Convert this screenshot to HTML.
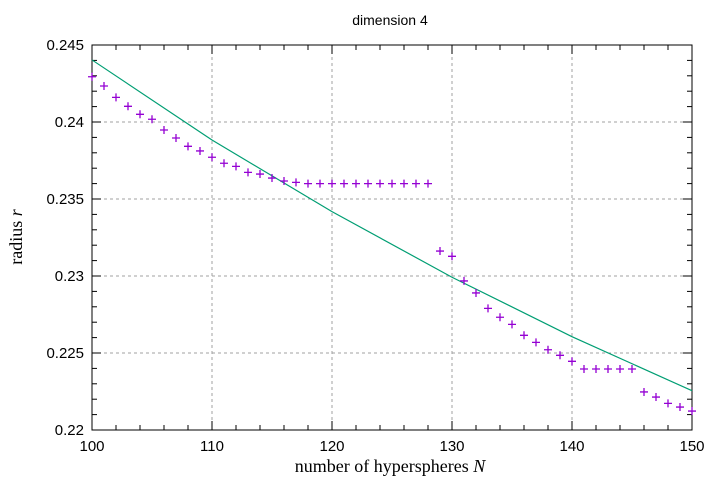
<!DOCTYPE html>
<html><head><meta charset="utf-8"><style>body{margin:0;background:#fff}svg{display:block}</style></head>
<body>
<svg id="chart" width="720" height="480" xmlns="http://www.w3.org/2000/svg"></svg>
<script>
const pointN=[];for(let n=100;n<=150;n++)pointN.push(n);
const pointR=[0.24294,0.24234,0.24160,0.24102,0.24050,0.24018,0.23948,0.23896,0.23842,0.23812,0.23771,0.23732,0.23712,0.23673,0.23662,0.23636,0.23617,0.23608,0.2360,0.2360,0.2360,0.2360,0.2360,0.2360,0.2360,0.2360,0.2360,0.2360,0.2360,0.23162,0.23128,0.22968,0.22890,0.22790,0.22732,0.22686,0.22615,0.22569,0.22521,0.22485,0.22446,0.22396,0.22396,0.22396,0.22396,0.22396,0.22247,0.22214,0.22173,0.22149,0.22123];
const fitN=[100,110,120,130,140,150];
const fitR=[0.24403,0.23883,0.23418,0.22992,0.22606,0.22255];
const xTicks=[100,110,120,130,140,150];
const yTicks=[0.22,0.225,0.23,0.235,0.24,0.245];
const yTickLabels=["0.22","0.225","0.23","0.235","0.24","0.245"];
const L=92,R=692,T=45,B=430;
const X=v=>L+(v-100)/50*(R-L);
const Y=v=>B-(v-0.22)/0.025*(B-T);
const svg=document.getElementById('chart');const NS="http://www.w3.org/2000/svg";
function mk(tag,attrs,name,parent){const e=document.createElementNS(NS,tag);for(const k in attrs)e.setAttribute(k,attrs[k]);


(parent||svg).appendChild(e);return e;}
// grid
xTicks.forEach(t=>{if(t>100&&t<150)mk('line',{x1:X(t),x2:X(t),y1:T,y2:B,stroke:'#a0a0a0','stroke-dasharray':'3,3'},'x-grid-line');});
yTicks.forEach(t=>{if(t>0.22&&t<0.245)mk('line',{x1:L,x2:R,y1:Y(t),y2:Y(t),stroke:'#a0a0a0','stroke-dasharray':'3,3'},'y-grid-line');});
// minor ticks
for(let v=100;v<=150;v+=2){const len=(v%10===0)?9:5;
mk('line',{x1:X(v),x2:X(v),y1:B,y2:B-len,stroke:'#000'},'x-tick');mk('line',{x1:X(v),x2:X(v),y1:T,y2:T+len,stroke:'#000'},'x-tick-top');}
for(let i=0;i<=25;i++){const v=0.22+i*0.001;const len=(i%5===0)?9:5;
mk('line',{x1:L,x2:L+len,y1:Y(v),y2:Y(v),stroke:'#000'},'y-tick');mk('line',{x1:R,x2:R-len,y1:Y(v),y2:Y(v),stroke:'#000'},'y-tick-right');}
mk('rect',{x:L,y:T,width:R-L,height:B-T,fill:'none',stroke:'#000','stroke-width':1},'plot-frame');
xTicks.forEach(t=>{const e=mk('text',{x:X(t),y:B+21,'text-anchor':'middle','font-family':'Liberation Sans, sans-serif','font-size':15},'x-tick-label');e.textContent=t;});
yTicks.forEach((t,i)=>{const e=mk('text',{x:L-8,y:Y(t)+5,'text-anchor':'end','font-family':'Liberation Sans, sans-serif','font-size':15},'y-tick-label');e.textContent=yTickLabels[i];});
// fit line
mk('polyline',{points:fitN.map((n,i)=>X(n)+','+Y(fitR[i])).join(' '),fill:'none',stroke:'#009e73','stroke-width':1.2},'fit-line');
// points
pointN.forEach((n,i)=>{const x=X(n),y=Y(pointR[i]);
mk('path',{d:`M${x-4},${y}H${x+4}M${x},${y-4}V${y+4}`,stroke:'#9400d3','stroke-width':1.3},'data-point');});
let t=mk('text',{x:390,y:25,'text-anchor':'middle','font-family':'Liberation Sans, sans-serif','font-size':14},'chart-title');t.textContent='dimension 4';
t=mk('text',{x:390,y:472,'text-anchor':'middle','font-family':'Liberation Serif, serif','font-size':18},'x-axis-title');
t.innerHTML='number of hyperspheres <tspan font-style="italic">N</tspan>';
t=mk('text',{x:22,y:237,'text-anchor':'middle','font-family':'Liberation Serif, serif','font-size':18,transform:'rotate(-90 22 237)'},'y-axis-title');
t.innerHTML='radius  <tspan font-style="italic">r</tspan>';
</script>
</body></html>
